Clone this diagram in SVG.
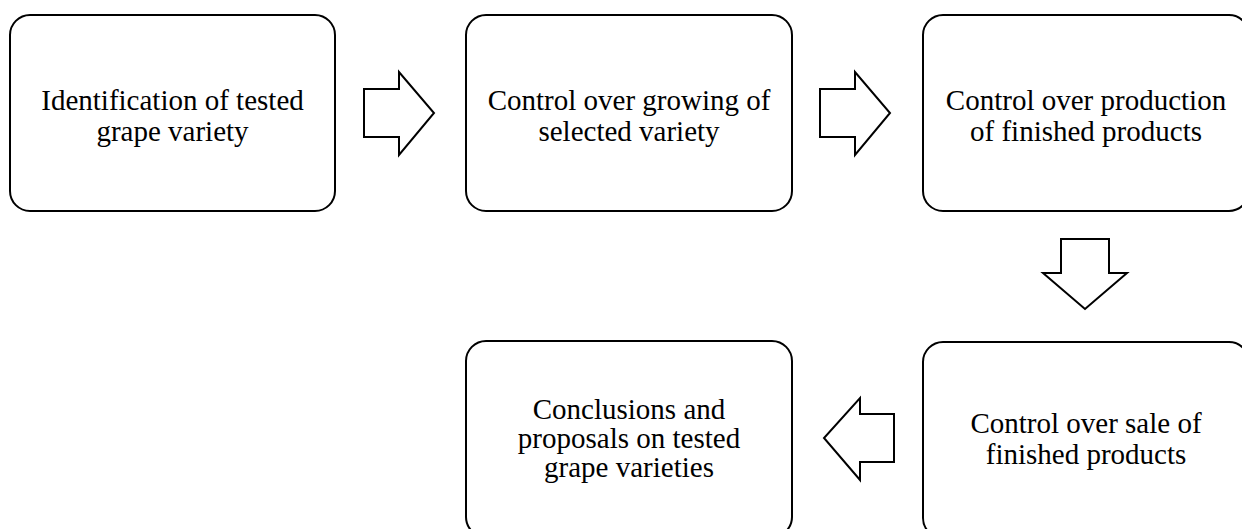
<svg xmlns="http://www.w3.org/2000/svg" width="1242" height="529" viewBox="0 0 1242 529">
<style>
.box{fill:#fff;stroke:#000;stroke-width:2}
.arr{fill:#fff;stroke:#000;stroke-width:2;stroke-linejoin:miter}
text{font-family:"Liberation Serif","Times New Roman",serif;font-size:29px;fill:#000;text-anchor:middle}
</style>
<rect width="1242" height="529" fill="#fff"/>
<g id="node1">
<rect class="box" x="10" y="15" width="325" height="196" rx="20" ry="20"/>
<text x="172.5" y="110">Identification of tested</text>
<text x="172.5" y="141">grape variety</text>
</g>
<g id="node2">
<rect class="box" x="466" y="15" width="326" height="196" rx="20" ry="20"/>
<text x="629" y="110">Control over growing of</text>
<text x="629" y="141">selected variety</text>
</g>
<g id="node3">
<rect class="box" x="923" y="15" width="326" height="196" rx="20" ry="20"/>
<text x="1086" y="110">Control over production</text>
<text x="1086" y="141">of finished products</text>
</g>
<g id="node4">
<rect class="box" x="923" y="342" width="326" height="196" rx="20" ry="20"/>
<text x="1086" y="433">Control over sale of</text>
<text x="1086" y="464">finished products</text>
</g>
<g id="node5">
<rect class="box" x="466" y="341" width="326" height="196" rx="20" ry="20"/>
<text x="629" y="419">Conclusions and</text>
<text x="629" y="448">proposals on tested</text>
<text x="629" y="477">grape varieties</text>
</g>
<g id="connectors">
<polygon class="arr" points="364,89 399,89 399,72 434,113 399,155 399,137 364,137"/>
<polygon class="arr" points="820,89 855,89 855,72 890,113 855,155 855,137 820,137"/>
<polygon class="arr" points="1061,239 1109,239 1109,273 1127,273 1085,309 1043,273 1061,273"/>
<polygon class="arr" points="894,414 860,414 860,398 824,438 860,480 860,462 894,462"/>
</g>
</svg>
